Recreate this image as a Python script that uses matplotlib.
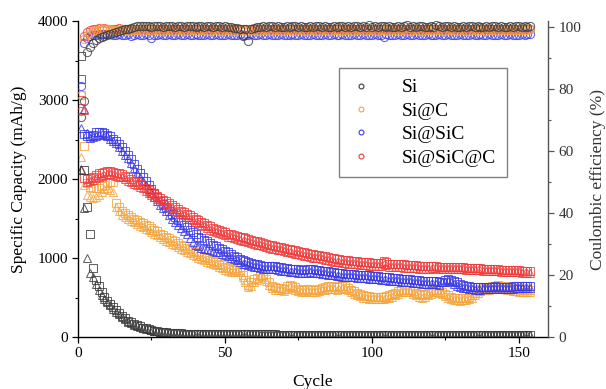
import numpy as np
import matplotlib
matplotlib.use("Agg")
import matplotlib.pyplot as plt
from matplotlib.lines import Line2D
from matplotlib.ticker import MultipleLocator

plt.rcParams['font.family'] = ['Liberation Serif', 'DejaVu Serif']

labels = ["Si", "Si@C", "Si@SiC", "Si@SiC@C"]
colors = ["#3c3c3c", "#f5a43c", "#3a3ae6", "#ef3c3c"]

# ---------- Specific capacity (mAh/g), squares ----------
si_sq = [3560, 2110, 1640, 1310, 870, 720, 640, 570, 510, 460,
         420, 380, 340, 300, 265, 235, 208, 185, 165, 148,
         133, 120, 108, 98, 90, 82, 75, 69, 64, 60,
         56, 53, 50, 48, 46, 44, 42, 41, 40, 39,
         38, 38, 37, 37, 37, 36, 36, 36, 35, 35, 35, 35, 34, 34, 34, 34, 33, 33, 33, 33,
         33, 32, 32, 32, 32, 32, 32, 31, 31, 31, 31, 31, 31, 31, 30, 30, 30, 30, 30, 30,
         30, 30, 30, 29, 29, 29, 29, 29, 29, 29, 29, 29, 29, 29, 28, 28, 28, 28, 28, 28,
         28, 28, 28, 28, 28, 28, 28, 27, 27, 27, 27, 27, 27, 27, 27, 27, 27, 27, 27, 27,
         27, 26, 26, 26, 26, 26, 26, 26, 26, 26, 26, 26, 26, 26, 26, 26, 26, 25, 25, 25,
         25, 25, 25, 25, 25, 25, 25, 25, 25, 25, 25, 25, 25, 25]
si_tri = [2120, 1630, 1000, 810, 760, 670, 600, 530, 480, 440,
          400, 360, 320, 285, 250, 222, 196, 175, 157, 141,
          127, 115, 104, 95, 87, 80, 73, 67, 62, 58,
          54, 51, 48, 46, 44, 42, 41, 40, 39, 38,
          37, 37, 36, 36, 36, 35, 35, 35, 34, 34, 34, 34, 33, 33, 33, 33, 32, 32, 32, 32,
          32, 31, 31, 31, 31, 31, 31, 30, 30, 30, 30, 30, 30, 30, 29, 29, 29, 29, 29, 29,
          29, 29, 29, 28, 28, 28, 28, 28, 28, 28, 28, 28, 28, 28, 27, 27, 27, 27, 27, 27,
          27, 27, 27, 27, 27, 27, 27, 26, 26, 26, 26, 26, 26, 26, 26, 26, 26, 26, 26, 26,
          26, 25, 25, 25, 25, 25, 25, 25, 25, 25, 25, 25, 25, 25, 25, 25, 25, 24, 24, 24,
          24, 24, 24, 24, 24, 24, 24, 24, 24, 24, 24, 24, 24, 24]

sic_sq = [3260, 2570, 2550, 2540, 2560, 2590, 2600, 2600, 2580, 2560,
          2540, 2510, 2480, 2440, 2400, 2350, 2300, 2250, 2190, 2130,
          2080, 2020, 1970, 1920, 1870, 1820, 1770, 1720, 1680, 1640,
          1600, 1560, 1520, 1480, 1450, 1420, 1390, 1360, 1330, 1300,
          1270, 1250, 1230, 1210, 1190, 1170, 1150, 1130, 1110, 1090,
          1070, 1050, 1030, 1010, 990, 970, 960, 950, 940, 930,
          920, 910, 900, 895, 900, 905, 900, 890, 880, 875,
          870, 865, 860, 860, 855, 850, 850, 855, 860, 855,
          850, 845, 840, 835, 830, 825, 820, 815, 810, 805,
          800, 800, 795, 795, 790, 790, 785, 785, 780, 775,
          775, 770, 765, 760, 760, 755, 750, 750, 745, 740,
          735, 730, 730, 725, 720, 720, 715, 715, 710, 710,
          705, 705, 700, 700, 720, 730, 725, 710, 690, 670,
          660, 650, 640, 635, 630, 630, 628, 630, 632, 635,
          635, 640, 638, 636, 634, 636, 638, 640, 640, 642,
          640, 645, 642, 640]
sic_tri = [2650, 2880, 2580, 2520, 2530, 2550, 2560, 2570, 2560, 2540,
           2510, 2480, 2450, 2400, 2360, 2310, 2260, 2200, 2140, 2080,
           2030, 1970, 1920, 1870, 1820, 1770, 1720, 1670, 1630, 1590,
           1550, 1500, 1460, 1420, 1380, 1340, 1300, 1250, 1200, 1170,
           1150, 1130, 1120, 1110, 1100, 1090, 1080, 1070, 1050, 1040,
           1020, 1000, 990, 970, 950, 930, 920, 910, 900, 890,
           880, 870, 860, 855, 860, 865, 860, 850, 840, 835,
           830, 825, 820, 820, 815, 810, 810, 815, 820, 815,
           810, 805, 800, 795, 790, 785, 780, 775, 770, 765,
           760, 760, 755, 755, 750, 750, 745, 745, 740, 735,
           735, 730, 725, 720, 720, 715, 710, 710, 705, 700,
           695, 690, 690, 685, 680, 680, 675, 675, 670, 670,
           665, 665, 660, 690, 700, 705, 690, 670, 650, 635,
           625, 615, 610, 605, 600, 600, 600, 602, 605, 608,
           610, 612, 610, 608, 606, 608, 610, 612, 614, 615,
           614, 616, 615, 614]

sicc_sq = [3000, 2010, 2000, 2010, 2030, 2050, 2070, 2080, 2090, 2100,
           2100, 2090, 2080, 2070, 2060, 2040, 2020, 2000, 1980, 1960,
           1940, 1920, 1890, 1860, 1840, 1810, 1790, 1760, 1740, 1720,
           1690, 1670, 1640, 1620, 1600, 1580, 1560, 1540, 1520, 1500,
           1480, 1460, 1440, 1420, 1400, 1385, 1370, 1355, 1340, 1325,
           1310, 1300, 1290, 1280, 1270, 1260, 1250, 1240, 1230, 1220,
           1210, 1200, 1190, 1180, 1170, 1160, 1150, 1145, 1140, 1130,
           1120, 1110, 1100, 1095, 1090, 1080, 1070, 1060, 1050, 1045,
           1040, 1035, 1030, 1020, 1010, 1000, 995, 990, 985, 980,
           975, 970, 968, 965, 960, 955, 950, 948, 945, 940,
           938, 935, 935, 960, 950, 930, 925, 925, 920, 920,
           918, 915, 912, 910, 908, 905, 905, 900, 900, 898,
           895, 895, 892, 890, 890, 888, 885, 885, 882, 880,
           880, 878, 876, 875, 872, 870, 868, 866, 864, 862,
           860, 858, 856, 854, 852, 850, 848, 846, 844, 842,
           840, 838, 836, 834]
sicc_tri = [2130, 2870, 1960, 1970, 1990, 2010, 2030, 2040, 2050, 2060,
            2060, 2050, 2040, 2030, 2020, 2000, 1980, 1960, 1940, 1920,
            1900, 1880, 1850, 1820, 1800, 1770, 1750, 1720, 1700, 1680,
            1650, 1630, 1600, 1580, 1560, 1540, 1520, 1500, 1480, 1460,
            1440, 1420, 1400, 1380, 1360, 1345, 1330, 1315, 1300, 1285,
            1270, 1260, 1250, 1240, 1230, 1220, 1210, 1200, 1190, 1180,
            1170, 1160, 1150, 1140, 1130, 1120, 1110, 1105, 1100, 1090,
            1080, 1070, 1060, 1055, 1050, 1040, 1030, 1020, 1010, 1005,
            1000, 995, 990, 980, 970, 960, 955, 950, 945, 940,
            935, 930, 928, 925, 920, 915, 910, 908, 905, 900,
            898, 895, 895, 930, 915, 890, 885, 885, 880, 880,
            878, 875, 872, 870, 868, 865, 865, 860, 860, 858,
            870, 870, 867, 865, 865, 863, 860, 860, 857, 855,
            855, 853, 851, 850, 847, 845, 843, 841, 839, 837,
            835, 833, 831, 829, 827, 825, 823, 821, 819, 817,
            815, 813, 811, 809]

sc_sq = [3060, 2420, 1950, 1900, 1880, 1880, 1890, 1910, 1930, 1950,
         1960, 1960, 1700, 1640, 1600, 1570, 1540, 1520, 1500, 1480,
         1460, 1440, 1420, 1400, 1380, 1360, 1340, 1310, 1290, 1270,
         1250, 1230, 1210, 1190, 1170, 1150, 1130, 1110, 1090, 1070,
         1050, 1030, 1010, 995, 980, 965, 950, 930, 910, 890,
         870, 860, 850, 870, 850, 790, 720, 660, 690, 740,
         750, 790, 780, 740, 690, 650, 630, 620, 620, 610,
         640, 660, 650, 630, 610, 600, 600, 610, 605, 600,
         600, 610, 620, 630, 640, 640, 635, 630, 640, 650,
         640, 620, 600, 580, 560, 545, 530, 520, 515, 510,
         510, 510, 505, 510, 520, 530, 540, 560, 580, 595,
         600, 600, 595, 580, 560, 540, 530, 540, 560, 580,
         600, 600, 590, 570, 550, 530, 510, 500, 495, 490,
         495, 500, 510, 530, 560, 590, 610, 620, 625, 630,
         640, 650, 655, 650, 640, 630, 620, 615, 610, 605,
         600, 600, 598, 600]
sc_tri = [2280, 1920, 1800, 1770, 1760, 1770, 1800, 1840, 1870, 1880,
          1860, 1840, 1650, 1590, 1550, 1520, 1490, 1470, 1450, 1430,
          1410, 1390, 1370, 1350, 1330, 1310, 1290, 1260, 1240, 1220,
          1200, 1180, 1160, 1140, 1120, 1100, 1080, 1060, 1040, 1020,
          1000, 985, 970, 955, 940, 925, 910, 890, 870, 850,
          835, 825, 820, 840, 820, 760, 690, 630, 650, 700,
          720, 770, 760, 715, 660, 620, 600, 590, 590, 580,
          610, 630, 620, 600, 580, 570, 570, 580, 575, 570,
          570, 580, 590, 600, 610, 610, 605, 600, 610, 620,
          610, 590, 570, 550, 530, 515, 500, 490, 485, 480,
          480, 480, 475, 480, 490, 500, 510, 530, 550, 565,
          570, 570, 565, 550, 530, 510, 500, 510, 530, 550,
          570, 570, 560, 540, 520, 500, 480, 470, 465, 460,
          465, 470, 480, 500, 530, 560, 580, 590, 595, 600,
          610, 620, 625, 620, 610, 600, 590, 585, 580, 575,
          570, 570, 568, 570]

# ---------- Coulombic efficiency (%), circles ----------
si_ce = [71, 76, 92, 93.5, 95, 95.8, 96.3, 96.8, 97.2, 97.5,
         97.8, 98, 98.3, 98.6, 98.9, 99.2, 99.5, 99.8, 100, 100.2,
         100.3, 100.2, 100.4, 100.3, 100.1, 100.2, 100.3, 100.2, 100.1, 100.3,
         100.2, 100.4, 100.1, 100.2, 100.3, 100.1, 100.2, 100.4, 100.2, 100.1,
         100.3, 100.2, 100.1, 100.3, 100.2, 100.0, 100.2, 100.3, 100.1, 100.2,
         100.1, 100.0, 99.8, 99.6, 99.2, 97.0, 99.4, 95.6, 99.5, 99.8,
         100.0, 100.1, 100.2, 100.1, 100.2, 100.3, 100.1, 100.2, 100.0, 100.1,
         100.2, 100.1, 100.3, 100.2, 100.1, 100.2, 100.0, 100.1, 100.2, 100.1,
         100.2, 100.3, 100.1, 100.2, 100.1, 100.0, 100.2, 100.1, 100.2, 100.3,
         100.1, 100.2, 100.1, 100.3, 100.2, 100.1, 100.2, 100.0, 100.6, 100.1,
         100.2, 100.1, 100.2, 100.3, 100.1, 100.2, 100.1, 100.0, 100.2, 100.1,
         100.2, 100.6, 100.1, 100.2, 100.1, 100.3, 100.2, 100.1, 100.0, 100.2,
         100.1, 100.6, 100.2, 100.1, 100.3, 100.2, 100.1, 100.2, 100.0, 100.1,
         100.2, 100.1, 100.3, 100.2, 100.1, 100.2, 100.0, 100.1, 100.2, 100.1,
         100.2, 100.3, 100.1, 100.2, 100.1, 100.0, 100.2, 100.1, 100.2, 100.3,
         100.1, 100.2, 100.1, 100.2]
sc_ce = [78, 96, 97.5, 98.2, 98.6, 98.9, 99.1, 99.2, 99.3, 99.2,
         99.3, 99.1, 98.9, 99.0, 99.2, 99.1, 98.8, 99.0, 99.1, 98.9,
         99.0, 98.8, 98.9, 99.1, 98.7, 98.9, 99.0, 98.8, 98.6, 98.9,
         99.0, 98.8, 98.7, 98.9, 99.1, 98.8, 98.7, 98.9, 99.0, 98.8,
         98.6, 98.9, 99.0, 98.7, 98.8, 99.0, 98.9, 98.7, 98.8, 99.0,
         98.9, 98.7, 98.6, 98.8, 99.0, 98.9, 98.7, 98.8, 99.0, 98.9,
         98.8, 98.6, 98.9, 99.0, 98.8, 98.7, 98.9, 99.1, 98.8, 98.7,
         98.9, 99.0, 98.8, 98.6, 98.9, 99.0, 98.7, 98.8, 99.1, 98.9,
         98.7, 98.8, 99.0, 98.9, 98.6, 98.8, 99.0, 98.9, 98.7, 98.8,
         99.0, 98.9, 98.7, 98.6, 98.9, 99.0, 98.8, 98.7, 98.9, 99.1,
         98.8, 98.7, 98.9, 99.0, 98.8, 98.6, 98.9, 99.0, 98.8, 98.9,
         99.0, 98.8, 98.7, 98.9, 99.0, 98.8, 98.7, 98.9, 99.1, 98.9,
         98.8, 98.9, 99.0, 98.8, 98.7, 98.9, 99.0, 98.9, 98.8, 99.0,
         98.9, 98.7, 98.8, 99.0, 98.9, 98.8, 98.9, 99.0, 98.8, 98.9,
         99.0, 98.9, 98.8, 99.0, 98.9, 99.1, 98.9, 99.0, 98.9, 99.0,
         99.1, 99.0, 98.9, 99.2]
sic_ce = [81, 95, 96.5, 97.0, 97.3, 97.5, 97.6, 97.7, 97.6, 97.8,
          97.6, 97.4, 97.5, 97.7, 97.3, 97.5, 97.6, 97.2, 97.4, 97.6,
          97.5, 97.3, 97.6, 97.4, 96.6, 97.5, 97.3, 97.6, 97.4, 97.5,
          97.7, 97.4, 97.3, 97.6, 97.5, 97.4, 97.6, 97.3, 97.5, 97.7,
          97.4, 97.5, 97.3, 97.6, 97.4, 97.5, 97.7, 97.3, 97.5, 97.4,
          97.6, 97.3, 97.5, 97.4, 97.6, 97.5, 97.3, 97.4, 97.6, 97.5,
          97.4, 97.6, 97.3, 97.5, 97.7, 97.4, 97.5, 97.3, 97.6, 97.4,
          97.5, 97.3, 97.6, 97.5, 97.4, 97.6, 97.3, 97.5, 97.4, 97.6,
          97.5, 97.3, 97.4, 97.6, 97.5, 97.4, 97.6, 97.3, 97.5, 97.7,
          97.4, 97.5, 97.3, 97.6, 97.4, 97.5, 97.7, 97.3, 97.5, 97.4,
          97.6, 97.3, 97.5, 96.8, 97.6, 97.5, 97.3, 97.4, 97.6, 97.5,
          97.4, 97.6, 97.3, 97.5, 97.7, 97.4, 97.5, 97.3, 97.6, 97.4,
          97.5, 97.3, 97.6, 97.5, 97.4, 97.6, 97.3, 97.5, 97.4, 97.6,
          97.5, 97.3, 97.4, 97.6, 97.5, 97.4, 97.6, 97.3, 97.5, 97.7,
          97.4, 97.5, 97.3, 97.6, 97.4, 97.5, 97.7, 97.3, 97.5, 97.4,
          97.6, 97.5, 97.7, 97.6]
sicc_ce = [73, 97, 98.5, 99.0, 99.3, 99.5, 99.6, 99.5, 99.6, 99.4,
           99.5, 99.3, 99.4, 99.6, 99.2, 99.4, 99.5, 99.3, 99.2, 99.4,
           99.5, 99.3, 99.4, 99.2, 99.3, 99.5, 99.4, 99.2, 99.3, 99.4,
           99.3, 99.5, 99.2, 99.4, 99.3, 99.5, 99.3, 99.2, 99.4, 99.3,
           99.5, 99.4, 99.2, 99.3, 99.4, 99.3, 99.5, 99.2, 99.4, 99.3,
           99.2, 99.4, 99.5, 99.3, 99.2, 99.4, 99.3, 99.5, 99.4, 99.2,
           99.3, 99.4, 99.5, 99.3, 99.2, 99.4, 99.3, 99.5, 99.2, 99.4,
           99.3, 99.5, 99.4, 99.2, 99.3, 99.4, 99.3, 99.5, 99.2, 99.4,
           99.5, 99.3, 99.4, 99.2, 99.3, 99.5, 99.4, 99.2, 99.3, 99.4,
           99.3, 99.5, 99.2, 99.4, 99.3, 99.5, 99.3, 99.2, 99.4, 99.3,
           99.5, 99.4, 99.2, 99.3, 99.4, 99.3, 99.5, 99.2, 99.4, 99.3,
           99.2, 99.4, 99.5, 99.3, 99.2, 99.4, 99.3, 99.5, 99.4, 99.2,
           99.3, 99.4, 99.5, 99.3, 99.2, 99.4, 99.3, 99.5, 99.2, 99.4,
           99.3, 99.5, 99.4, 99.2, 99.3, 99.4, 99.3, 99.5, 99.2, 99.4,
           99.5, 99.3, 99.4, 99.2, 99.3, 99.5, 99.4, 99.2, 99.3, 99.4,
           99.3, 99.5, 99.4, 99.3]

x_ticks = [0, 50, 100, 150]
y_ticks = [0, 1000, 2000, 3000, 4000]
y2_ticks = [0, 20, 40, 60, 80, 100]

fig = plt.figure(figsize=(6.06, 3.89), dpi=100)
ax = fig.add_axes([78/606, 1-337/389, 470/606, 316/389])
ax2 = ax.twinx()

ms = 5.3
mew = 0.75

def plot_cap(a, vals, marker, color):
    c = np.arange(1, len(vals) + 1)
    a.plot(c, vals, linestyle='none', marker=marker, markersize=ms,
           markerfacecolor='none', markeredgecolor=color, markeredgewidth=mew, alpha=0.8)

cap_sets = [(sc_sq, sc_tri, colors[1]), (sic_sq, sic_tri, colors[2]),
            (sicc_sq, sicc_tri, colors[3]), (si_sq, si_tri, colors[0])]
for sq, tri, col in cap_sets:
    plot_cap(ax, sq, 's', col)
    plot_cap(ax, tri, '^', col)

ce_sets = [(sic_ce, colors[2]), (sicc_ce, colors[3]), (sc_ce, colors[1]), (si_ce, colors[0])]
for ce, col in ce_sets:
    c = np.arange(1, len(ce) + 1)
    ax2.plot(c, ce, linestyle='none', marker='o', markersize=ms + 0.6,
             markerfacecolor='none', markeredgecolor=col, markeredgewidth=mew, alpha=0.8)

ax.set_xlim(0, 160)
ax.set_ylim(0, 4000)
ax2.set_ylim(0, 100 * 316 / 310)

ax.set_xticks(x_ticks)
ax.set_yticks(y_ticks)
ax2.set_yticks(y2_ticks)
ax.xaxis.set_minor_locator(MultipleLocator(25))
ax.yaxis.set_minor_locator(MultipleLocator(500))
ax2.yaxis.set_minor_locator(MultipleLocator(10))

for a in (ax, ax2):
    a.spines['top'].set_visible(False)
ax.spines['right'].set_visible(False)
ax2.spines['left'].set_visible(False)
ax2.spines['bottom'].set_visible(False)
ax2.spines['right'].set_color('#555555')
ax.spines['left'].set_linewidth(1.0)
ax.spines['bottom'].set_linewidth(1.0)
ax2.spines['right'].set_linewidth(1.0)

ax.tick_params(axis='both', which='major', direction='out', length=4.5, width=0.9,
               labelsize=11, pad=2.5)
ax.tick_params(axis='both', which='minor', direction='out', length=2.5, width=0.8)
ax2.tick_params(axis='y', which='major', direction='out', length=4.5, width=0.9,
                labelsize=11, pad=3, color='#555555', labelcolor='#333333')
ax2.tick_params(axis='y', which='minor', direction='out', length=2.5, width=0.8, color='#555555')

ax.set_xlabel('Cycle', fontsize=12.5, labelpad=10)
ax.set_ylabel('Specific Capacity (mAh/g)', fontsize=12.5, labelpad=8)
ax2.set_ylabel('Coulombic efficiency (%)', fontsize=12.5, labelpad=6, color='#333333')

handles = [Line2D([], [], linestyle='none', marker='o', markersize=3.5,
                  markerfacecolor='none', markeredgecolor=c, markeredgewidth=0.8)
           for c in colors]
leg = ax2.legend(handles, labels, loc='upper left', bbox_to_anchor=(0.555, 0.851),
                 fontsize=14, frameon=True, fancybox=False, borderaxespad=0,
                 handlelength=1.2, handletextpad=1.5, labelspacing=0.3,
                 borderpad=0.55)
leg.get_frame().set_edgecolor('#808080')
leg.get_frame().set_linewidth(1.0)
leg.get_frame().set_alpha(1)

fig.savefig('out.png', dpi=100)
